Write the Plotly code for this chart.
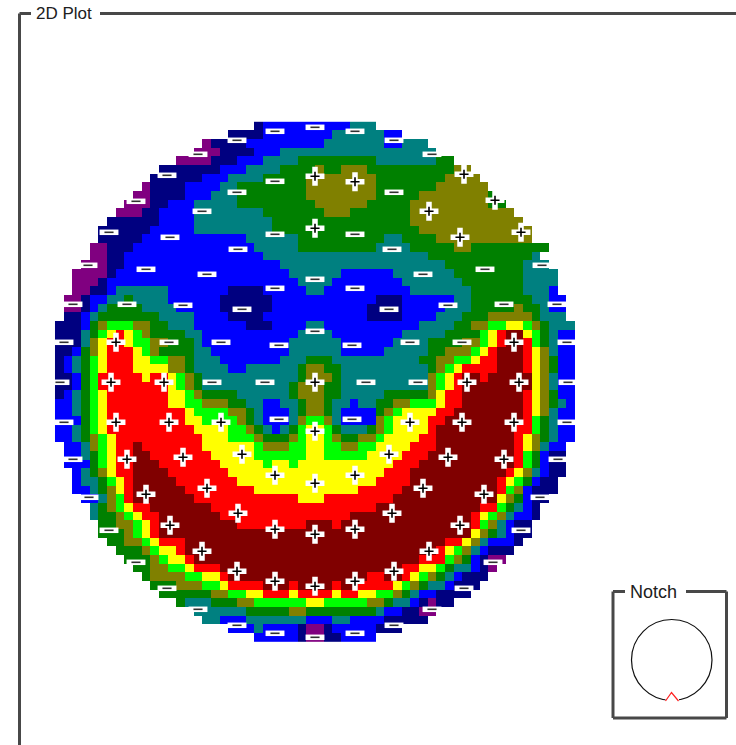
import plotly.graph_objects as go

# Wafer map levels, one run-length string per row: "firstcol:level ... endcol"
LEVEL_COLORS = ["#800080", "#000080", "#0000ff", "#008080", "#008000",
                "#808000", "#00ff00", "#ffff00", "#ff0000", "#800000"]
ROWS = [
"23:1 24:2 34:3 37",
"20:1 24:2 32:3 38:2 40",
"17:0 18:1 22:2 31:3 38:2 40:3 43",
"16:0 19:1 23:2 26:3 44",
"14:0 18:1 21:2 24:3 28:4 37:3 44:4 46",
"12:1 19:2 22:3 26:4 30:5 31:4 33:5 36:4 46:5 48",
"11:1 17:2 20:3 24:4 29:5 37:4 45:5 49",
"10:0 11:1 15:2 19:3 21:4 29:5 37:4 44:5 50",
"9:0 11:1 15:2 18:3 21:4 29:5 37:4 42:5 50:4 51",
"8:0 11:1 13:2 16:3 21:4 30:5 36:4 41:5 50:4 52",
"7:0 10:1 12:2 16:3 24:4 31:5 34:4 41:5 53",
"6:1 12:2 16:3 25:4 41:5 54",
"5:1 11:2 16:3 25:4 42:5 55",
"5:1 10:2 22:3 28:4 38:3 40:4 44:5 55",
"4:0 6:1 9:2 23:3 28:4 37:3 41:4 46:5 48:4 57",
"4:0 6:1 8:2 24:3 43:4 55:3 56",
"3:0 6:1 8:2 26:3 45:4 54:3 57",
"2:0 6:1 7:2 27:3 33:2 39:3 46:4 54:3 58",
"2:0 5:1 6:2 28:3 32:2 40:3 47:4 54:3 58",
"2:0 4:1 6:2 7:3 13:2 20:1 24:2 29:3 31:2 41:3 48:4 54:3 57:2 58",
"1:0 3:1 4:2 6:3 8:4 9:3 13:2 19:1 25:2 37:1 40:2 46:3 48:4 55:3 57:2 59",
"1:0 3:1 4:2 5:3 6:4 10:3 14:2 19:1 25:2 36:1 40:2 45:3 48:4 53:5 54:4 56:3 57:2 59",
"1:1 3:2 4:3 5:4 12:3 16:2 20:1 24:2 36:1 40:2 44:3 47:4 50:5 55:4 56:3 59",
"0:1 3:2 4:4 5:5 6:6 9:5 11:4 13:3 16:2 22:1 25:2 29:3 31:2 42:3 46:4 48:5 50:6 52:7 54:6 55:5 56:4 57:3 60",
"0:1 3:3 4:4 5:6 6:7 7:8 8:7 9:6 10:5 11:4 15:3 17:2 28:3 32:2 40:3 45:4 49:6 50:7 51:8 52:9 54:7 55:6 56:4 57:3 58:2 60",
"0:1 3:3 4:5 5:7 6:8 8:7 9:6 11:5 13:4 16:3 17:2 27:3 33:2 39:3 43:4 47:5 49:6 50:7 51:8 52:9 54:8 55:6 56:4 57:3 58:2 60",
"0:1 2:2 3:4 4:5 5:7 6:8 9:7 10:6 11:5 12:4 16:3 18:2 27:3 33:2 38:3 43:4 45:5 48:6 49:7 50:8 51:9 54:8 55:7 56:5 57:3 58:2 60",
"0:1 1:2 2:3 3:4 4:6 5:7 6:8 9:7 11:6 13:5 15:4 16:3 19:2 26:3 29:4 32:3 42:4 44:5 46:6 48:7 49:8 51:9 54:8 55:7 56:5 57:4 58:2 60",
"0:1 1:2 2:3 3:4 4:6 5:7 6:8 9:7 13:5 15:4 16:3 20:2 22:3 28:4 29:5 31:4 33:3 43:4 44:5 45:6 46:7 47:8 51:9 54:8 55:7 56:5 57:4 58:2 60",
"0:1 2:2 3:4 4:6 5:8 10:7 11:8 13:7 14:6 15:5 16:4 17:3 28:4 29:5 32:4 33:3 43:5 44:6 45:7 46:8 47:9 49:8 50:9 55:7 56:5 57:3 58:2 60",
"0:1 2:2 3:4 4:6 5:8 13:7 14:6 15:5 16:4 17:3 27:4 28:5 31:4 33:3 43:5 44:6 45:7 46:8 47:9 55:7 56:5 57:3 58:2 60",
"0:1 1:2 2:3 3:4 4:6 5:7 6:8 13:7 15:6 16:5 17:4 21:3 27:4 28:5 31:4 33:3 38:4 43:5 44:7 45:8 47:9 54:8 55:7 56:5 57:4 58:2 60",
"0:2 2:3 3:4 4:6 5:7 6:8 13:7 15:6 17:5 20:4 22:3 24:2 26:3 28:4 29:5 31:4 32:3 34:2 35:3 37:4 39:5 41:6 44:7 45:8 47:9 54:8 55:7 56:5 57:4 58:3 59:2 60",
"0:2 2:3 3:4 4:6 5:7 6:8 15:7 16:6 20:5 22:4 23:3 24:2 27:3 28:4 29:5 31:4 32:3 33:2 37:4 38:5 39:6 40:7 44:8 46:9 54:8 55:7 56:5 57:3 58:2 60",
"0:2 3:4 4:6 5:7 6:8 15:7 17:6 21:5 22:4 23:3 24:2 27:3 28:5 29:6 31:5 32:3 33:2 37:5 38:6 39:7 43:8 45:9 54:8 55:6 56:4 57:3 58:2 60",
"0:2 2:3 3:4 4:6 5:7 6:8 16:7 20:6 22:5 23:4 24:3 25:2 26:3 27:4 28:6 29:7 31:6 32:4 33:3 36:4 37:5 38:6 39:7 43:8 44:9 53:8 55:6 56:4 57:3 58:2 60",
"0:2 2:3 3:4 4:5 5:6 6:7 7:8 17:7 20:6 23:5 24:4 27:5 28:6 29:7 31:6 32:5 33:4 35:5 37:6 38:7 42:8 44:9 53:8 54:7 55:5 56:4 57:3 58:2 60",
"1:2 3:3 4:5 5:6 6:7 7:8 9:9 10:8 17:7 23:6 24:5 27:6 29:7 31:6 33:5 35:6 37:7 41:8 44:9 53:8 54:7 55:5 56:3 57:2 59",
"1:2 3:3 4:4 5:6 6:7 7:8 9:9 11:8 18:7 23:6 29:7 31:6 36:7 40:8 43:9 53:8 54:6 55:4 56:2 57:1 59",
"1:2 4:4 5:6 6:7 7:8 9:9 12:8 19:7 24:6 25:7 27:6 28:7 39:8 42:9 53:8 54:6 55:4 56:2 57:1 59",
"2:2 3:3 4:4 5:5 6:7 7:8 9:9 13:8 20:7 38:8 41:9 52:8 53:7 54:5 55:3 56:2 57:1 59",
"2:2 3:3 5:4 6:6 7:7 8:8 9:9 14:8 21:7 37:8 41:9 51:8 52:7 53:6 54:4 55:2 56:1 58",
"2:2 4:3 5:4 6:5 7:7 8:8 9:9 15:8 23:7 35:8 40:9 51:8 52:6 53:5 54:2 55:1 58",
"3:2 5:3 6:5 7:6 8:8 9:9 16:8 28:7 31:8 39:9 51:7 52:5 53:4 54:2 55:1 57",
"4:3 5:4 6:5 7:6 8:7 9:8 11:9 18:8 37:9 49:8 51:6 52:4 53:3 54:2 55:1 56",
"4:3 5:4 7:5 8:6 9:7 10:8 12:9 19:8 34:9 48:8 49:7 50:6 51:5 52:3 53:2 55:1 56",
"5:4 7:5 9:6 10:7 11:8 12:9 21:8 29:9 32:8 33:9 48:8 49:6 50:5 51:3 52:2 53:1 55",
"5:4 8:5 9:6 10:7 11:8 12:9 48:7 49:5 50:4 51:3 52:2 53:1 55",
"6:4 8:5 10:6 11:7 12:8 15:9 45:8 47:7 48:5 49:3 50:2 53:1 54",
"7:4 10:5 11:6 12:7 14:8 15:9 44:8 45:7 46:6 47:5 48:3 49:2 50:1 53",
"8:4 11:5 12:6 13:7 15:8 16:9 42:8 45:6 46:5 47:4 48:2 49:1 50:0 52",
"9:4 11:5 13:6 15:7 16:8 19:9 40:8 42:7 44:6 45:4 46:3 48:2 49:1 50:0 51",
"10:4 11:5 15:6 17:7 19:8 20:9 36:8 38:9 40:8 41:7 42:6 43:5 44:4 45:3 46:2 47:1 50",
"11:4 14:5 17:6 19:7 20:8 24:9 27:8 28:9 32:8 33:9 35:8 39:7 40:6 41:5 42:4 43:3 45:2 46:1 49",
"12:4 18:5 20:6 22:7 24:8 27:7 28:8 32:7 33:8 35:7 37:6 39:5 40:4 41:3 42:2 44:1 48",
"14:4 15:3 18:4 21:5 23:6 29:7 31:6 36:5 38:4 39:3 41:2 42:1 43:0 44:1 46",
"16:3 22:4 27:5 29:4 37:3 38:2 40:1 42:0 44",
"17:3 19:2 22:3 29:2 32:3 34:2 38:1 43",
"20:2 23:3 24:2 28:1 29:0 31:1 32:2 37:1 40",
"23:2 28:1 29:0 31:1 33:2 37",
]

# Measurement sites in wafer coordinates (centre = 0,0)
PLUS_X = [0, 40, 149, 180, 114, 206, 145, 0, -199, 199, -204, -151, 0, 152, 204,
          -199, -146, -94, 95, 147, 199, 0, -188, -132, -73, 74, 133, 189, -40, 40,
          0, -108, 108, -169, 169, -77, 77, -145, 145, -40, 40, 0, -113, 114, -78,
          79, -40, 40, 0]
PLUS_Y = [206, 200.6, 208, 182, 171, 150, 145, 154, 40, 40, 0, 0, 0, 0, 0,
          -40, -40, -40, -40, -40, -40, -49, -77, -75, -72, -72, -75, -77, -93, -93,
          -101, -106, -106, -112, -112, -131, -131, -143, -143, -147, -147, -152, -169, -169, -189,
          -189, -199, -199, -204]
MINUS_X = [-40, 0, 40, -78, 79, -117, 117, -148, -40, -78, 79, -179, -113, -206, -40,
           40, -145, -77, 77, -227, 227, -169, 170, -108, 108, 0, -40, 40, -242, 242,
           -188, 189, -132, 133, -73, 74, 0, -251, 252, -146, 147, -94, 95, -36, 37,
           -255, 253, -103, -50, 51, 103, -251, 252, -36, 37, -242, 243, -226, 225, -206,
           206, -179, 178, -148, 149, -117, 117, -78, 79, -40, 40, 0]
MINUS_Y = [251, 255, 251, 242, 242, 228, 228, 207, 201, 190, 190, 181, 171, 150, 148,
           148, 145, 133, 133, 117, 117, 113, 113, 108, 108, 103, 94, 94, 78, 78,
           78, 78, 77, 77, 73, 73, 51, 40, 40, 40, 40, 40, 40, 37, 37,
           0, 0, 0, 0, 0, 0, -40, -40, -37, -37, -77, -77, -115, -115, -148,
           -148, -180, -180, -206, -206, -227, -227, -243, -243, -251, -251, -255]

N = 60
z = [[None] * N for _ in range(N)]
for r, row in enumerate(ROWS):
    parts = row.split()
    end = int(parts[-1])
    runs = [tuple(map(int, p.split(":"))) for p in parts[:-1]]
    for i, (start, level) in enumerate(runs):
        stop = runs[i + 1][0] if i + 1 < len(runs) else end
        for c in range(start, stop):
            z[r][c] = level

cs = []
for i, col in enumerate(LEVEL_COLORS):
    cs += [[i / 10, col], [(i + 1) / 10, col]]

W, H = 736, 745
CX, CY = 315, 382.3
CELL = 8.667
fig = go.Figure()
fig.add_trace(go.Heatmap(z=z, x0=-CELL * 29.5, dx=CELL, y0=CELL * 29.5 + 0.5, dy=-CELL,
                         zmin=0, zmax=10, colorscale=cs, showscale=False,
                         hoverinfo="skip"))
fig.add_trace(go.Scatter(x=MINUS_X, y=MINUS_Y, mode="markers", hoverinfo="skip",
                         marker=dict(symbol="line-ew", size=13.5, color="white",
                                     line=dict(color="white", width=5.5))))
fig.add_trace(go.Scatter(x=PLUS_X, y=PLUS_Y, mode="markers", hoverinfo="skip",
                         marker=dict(symbol="cross-thin", size=13.5, color="white",
                                     line=dict(color="white", width=5.5))))
fig.add_trace(go.Scatter(x=MINUS_X, y=MINUS_Y, mode="markers", hoverinfo="skip",
                         marker=dict(symbol="line-ew", size=6.5, color="#303030",
                                     line=dict(color="#303030", width=1.6))))
fig.add_trace(go.Scatter(x=PLUS_X, y=PLUS_Y, mode="markers", hoverinfo="skip",
                         marker=dict(symbol="cross-thin", size=6.5, color="black",
                                     line=dict(color="black", width=1.6))))


def px(x):
    return x / W


def py(y):
    return 1 - y / H


FRAME = "#484848"
shapes = []
for x0, y0, x1, y1 in [(19.5, 13.5, 19.5, 745), (19.5, 13.5, 31, 13.5), (100, 13.5, 736, 13.5),
                       (613, 591.5, 613, 718), (613, 718, 726.5, 718), (726.5, 591.5, 726.5, 718),
                       (613, 591.5, 625, 591.5), (686, 591.5, 726.5, 591.5)]:
    shapes.append(dict(type="line", xref="paper", yref="paper", x0=px(x0), y0=py(y0), x1=px(x1), y1=py(y1),
                       line=dict(color=FRAME, width=3)))
shapes.append(dict(type="circle", xref="paper", yref="paper", x0=px(631.5), x1=px(712), y0=py(619.5), y1=py(700.5),
                   line=dict(color="#101010", width=1.2)))
shapes.append(dict(type="rect", xref="paper", yref="paper", x0=px(665.5), x1=px(679), y0=py(695), y1=py(703),
                   fillcolor="white", line=dict(width=0)))
shapes.append(dict(type="path", xref="paper", yref="paper", layer="above",
                   path=f"M {px(665.5)} {py(701)} L {px(671.5)} {py(692.5)} L {px(678.5)} {py(701)}",
                   line=dict(color="#ff2020", width=1.2)))

fig.update_layout(
    width=W, height=H, margin=dict(l=0, r=0, t=0, b=0, pad=0),
    paper_bgcolor="white", plot_bgcolor="white", showlegend=False, shapes=shapes,
    xaxis=dict(range=[-CX, W - CX], visible=False, fixedrange=True),
    yaxis=dict(range=[CY - H, CY], visible=False, fixedrange=True),
    annotations=[
        dict(text="2D Plot", xref="paper", yref="paper", x=px(34), y=py(14), xanchor="left", yanchor="middle",
             showarrow=False, font=dict(family="Liberation Sans", size=17, color="#202020")),
        dict(text="Notch", xref="paper", yref="paper", x=px(628), y=py(591.5), xanchor="left", yanchor="middle",
             showarrow=False, font=dict(family="Liberation Sans", size=18, color="#202020")),
    ],
)
fig.write_html("out.html", config=dict(displayModeBar=False, staticPlot=True),
               post_script="document.body.style.margin='0';document.body.style.overflow='hidden';")
